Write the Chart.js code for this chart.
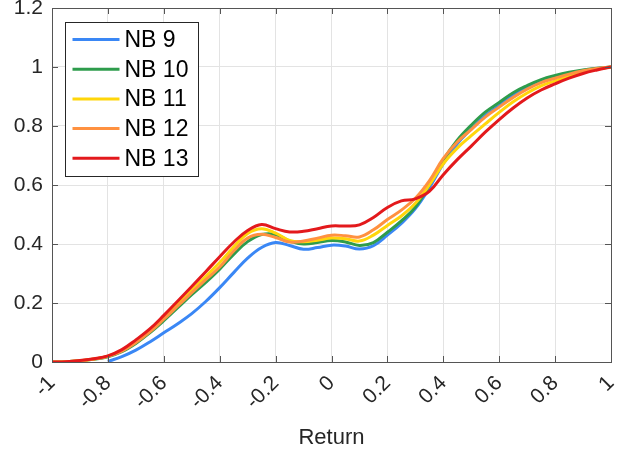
<!DOCTYPE html>
<html>
<head>
<meta charset="utf-8">
<script src="https://cdn.jsdelivr.net/npm/chart.js@4"></script>
<style>
  html, body { margin: 0; padding: 0; background: #fff; }
  canvas { display: block; }
</style>
</head>
<body>
<canvas id="cdfChart" width="620" height="457"></canvas>
<script>
// x positions (Return)
const returns = [-1, -0.95, -0.9, -0.85, -0.8, -0.75, -0.7, -0.65, -0.6, -0.55, -0.5, -0.45, -0.4, -0.35, -0.3, -0.25, -0.2, -0.15, -0.1, -0.05,
  0, 0.05, 0.1, 0.15, 0.2, 0.25, 0.3, 0.35, 0.4, 0.45, 0.5, 0.55, 0.6, 0.65, 0.7, 0.75, 0.8, 0.85, 0.9, 0.95, 1];

const nb9 = [null, null, null, null, 0.002, 0.018, 0.04, 0.068, 0.099, 0.13, 0.164, 0.205, 0.252, 0.303, 0.352, 0.388, 0.405, 0.395, 0.382, 0.388,
  0.396, 0.393, 0.383, 0.394, 0.43, 0.47, 0.52, 0.59, 0.672, 0.74, 0.79, 0.835, 0.869, 0.905, 0.931, 0.952, 0.966, 0.979, 0.988, 0.995, 1];
const nb10 = [0, 0.001, 0.004, 0.009, 0.018, 0.035, 0.063, 0.099, 0.14, 0.184, 0.228, 0.27, 0.315, 0.365, 0.408, 0.432, 0.432, 0.41, 0.4, 0.405,
  0.412, 0.407, 0.395, 0.405, 0.44, 0.478, 0.525, 0.6, 0.685, 0.752, 0.803, 0.847, 0.88, 0.913, 0.937, 0.957, 0.971, 0.982, 0.99, 0.996, 1];
const nb11 = [0, 0.001, 0.004, 0.01, 0.02, 0.039, 0.068, 0.105, 0.148, 0.195, 0.242, 0.29, 0.337, 0.39, 0.436, 0.452, 0.437, 0.412, 0.408, 0.413,
  0.42, 0.418, 0.41, 0.43, 0.463, 0.495, 0.538, 0.6, 0.672, 0.725, 0.767, 0.807, 0.846, 0.882, 0.912, 0.936, 0.953, 0.969, 0.982, 0.993, 1];
const nb12 = [0, 0.001, 0.004, 0.01, 0.019, 0.037, 0.066, 0.102, 0.145, 0.19, 0.235, 0.279, 0.322, 0.376, 0.42, 0.433, 0.422, 0.407, 0.41, 0.42,
  0.43, 0.428, 0.424, 0.448, 0.483, 0.515, 0.555, 0.614, 0.69, 0.746, 0.788, 0.83, 0.864, 0.897, 0.925, 0.947, 0.962, 0.976, 0.987, 0.995, 1];
const nb13 = [0, 0.001, 0.005, 0.011, 0.021, 0.042, 0.075, 0.112, 0.158, 0.207, 0.256, 0.306, 0.357, 0.406, 0.446, 0.466, 0.452, 0.441, 0.443, 0.452,
  0.461, 0.461, 0.465, 0.49, 0.524, 0.546, 0.553, 0.578, 0.635, 0.686, 0.732, 0.779, 0.822, 0.861, 0.895, 0.922, 0.943, 0.962, 0.978, 0.99, 1];

const seriesNames = ["NB 9", "NB 10", "NB 11", "NB 12", "NB 13"];
const seriesColors = ["#3a87f5", "#2e9c4c", "#ffd60a", "#ff9140", "#e3191c"];
const xTicks = [-1, -0.8, -0.6, -0.4, -0.2, 0, 0.2, 0.4, 0.6, 0.8, 1];
const yTicks = [0, 0.2, 0.4, 0.6, 0.8, 1, 1.2];

const FONT = "'Liberation Sans', Arial, Helvetica, sans-serif";
const AXIS_COLOR = "#262626";

function toPoints(values) {
  return values.map((v, i) => ({ x: returns[i], y: v }));
}

function fmt(v) {
  return String(Number(v.toFixed(1)));
}

// box, inward ticks and legend, MATLAB style
const matlabFrame = {
  id: "matlabFrame",
  afterDatasetsDraw(chart) {
    const ctx = chart.ctx;
    const { left, right, top, bottom } = chart.chartArea;
    const xs = chart.scales.x, ys = chart.scales.y;
    ctx.save();
    ctx.strokeStyle = "#555";
    ctx.lineWidth = 1;
    ctx.beginPath();
    xTicks.forEach(t => {
      const px = Math.round(xs.getPixelForValue(t)) + 0.5;
      ctx.moveTo(px, bottom); ctx.lineTo(px, bottom - 6);
      ctx.moveTo(px, top); ctx.lineTo(px, top + 6);
    });
    yTicks.forEach(t => {
      const py = Math.round(ys.getPixelForValue(t)) + 0.5;
      ctx.moveTo(left, py); ctx.lineTo(left + 6, py);
      ctx.moveTo(right, py); ctx.lineTo(right - 6, py);
    });
    ctx.stroke();
    ctx.strokeRect(Math.round(left) + 0.5, Math.round(top) + 0.5, Math.round(right - left), Math.round(bottom - top));

    // legend
    const x0 = Math.round(left) + 13.5, y0 = Math.round(top) + 14.5, w = 133, h = 154;
    ctx.fillStyle = "#fff";
    ctx.fillRect(x0, y0, w, h);
    ctx.strokeStyle = AXIS_COLOR;
    ctx.strokeRect(x0, y0, w, h);
    ctx.font = "23px " + FONT;
    ctx.textBaseline = "middle";
    chart.data.datasets.forEach((ds, i) => {
      const y = y0 + 17 + i * 29.7;
      ctx.strokeStyle = ds.borderColor;
      ctx.lineWidth = 3;
      ctx.beginPath();
      ctx.moveTo(x0 + 7, y); ctx.lineTo(x0 + 54, y);
      ctx.stroke();
      ctx.fillStyle = "#000";
      ctx.fillText(ds.label, x0 + 59, y + 1);
    });
    ctx.restore();
  }
};

const ctx = document.getElementById("cdfChart").getContext("2d");
const allSeries = [nb9, nb10, nb11, nb12, nb13];

new Chart(ctx, {
  type: "line",
  data: {
    datasets: allSeries.map((vals, i) => ({
      label: seriesNames[i],
      data: toPoints(vals),
      borderColor: seriesColors[i],
      backgroundColor: seriesColors[i],
      borderWidth: 3,
      pointRadius: 0,
      fill: false,
      spanGaps: false,
      tension: 0.4,
      order: allSeries.length - i
    }))
  },
  options: {
    responsive: false,
    animation: false,
    layout: { padding: { top: 8, right: 9, left: 0, bottom: 0 } },
    plugins: {
      legend: { display: false },
      tooltip: { enabled: false }
    },
    scales: {
      x: {
        type: "linear",
        min: -1,
        max: 1,
        afterBuildTicks: scale => { scale.ticks = xTicks.map(v => ({ value: v })); },
        afterFit: scale => {
          scale.height = 95;
          scale.paddingLeft = 0;
          scale.paddingRight = 0;
        },
        grid: { color: "#e3e3e3", lineWidth: 1, drawTicks: false },
        border: { display: false },
        ticks: {
          font: { family: FONT, size: 21 },
          color: AXIS_COLOR,
          minRotation: 45,
          maxRotation: 45,
          padding: 9,
          callback: v => fmt(v)
        },
        title: {
          display: true,
          text: "Return",
          font: { family: FONT, size: 22 },
          color: AXIS_COLOR,
          padding: { top: 0, bottom: 6 }
        }
      },
      y: {
        min: 0,
        max: 1.2,
        afterBuildTicks: scale => { scale.ticks = yTicks.map(v => ({ value: v })); },
        afterFit: scale => {
          scale.width = 52;
          scale.paddingTop = 0;
          scale.paddingBottom = 0;
        },
        grid: { color: "#e3e3e3", lineWidth: 1, drawTicks: false },
        border: { display: false },
        ticks: {
          font: { family: FONT, size: 21 },
          color: AXIS_COLOR,
          padding: 9,
          callback: v => fmt(v)
        }
      }
    }
  },
  plugins: [matlabFrame]
});
</script>
</body>
</html>
